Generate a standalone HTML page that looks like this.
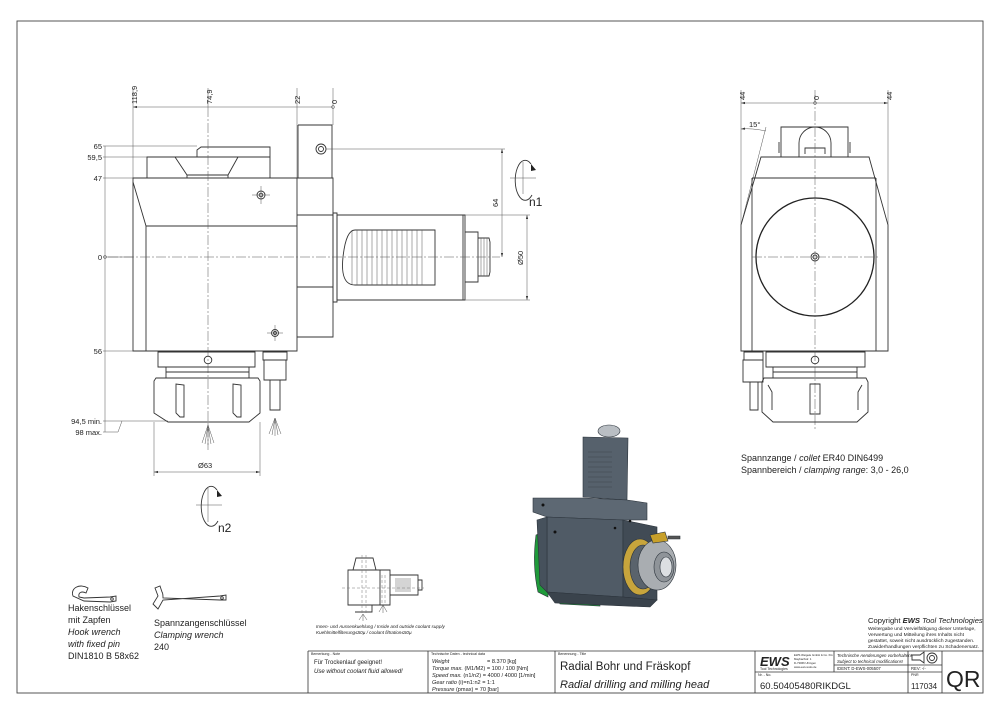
<!DOCTYPE html>
<html><head><meta charset="utf-8"><style>
html,body{margin:0;padding:0;background:#fff;}
svg{display:block;font-family:"Liberation Sans",sans-serif;}
.l{fill:none;stroke:#333;stroke-width:0.9}
.t{fill:none;stroke:#555;stroke-width:0.5}
.c{fill:none;stroke:#555;stroke-width:0.5;stroke-dasharray:10 2 2 2}
.d{fill:none;stroke:#777;stroke-width:0.5;stroke-dasharray:3 2}
text{fill:#222}
.s{font-size:7.5px}
.m{font-size:9px}
.i{font-style:italic}
</style></head><body>
<svg width="1000" height="715" viewBox="0 0 1000 715" xmlns="http://www.w3.org/2000/svg">
<defs><marker id="a" markerWidth="8" markerHeight="6" refX="8" refY="3" orient="auto-start-reverse"><path d="M0,0.8 L8,3 L0,5.2z" fill="#333"/></marker></defs>
<rect x="17" y="21" width="966" height="672" fill="none" stroke="#444" stroke-width="0.9"/>

<!-- ===== LEFT VIEW ===== -->
<line class="t" x1="133" y1="107" x2="333" y2="107" marker-start="url(#a)"/>
<line class="t" x1="133" y1="88" x2="133" y2="178"/>
<line class="t" x1="208" y1="88" x2="208" y2="107"/>
<line class="t" x1="297" y1="88" x2="297" y2="178"/>
<line class="t" x1="333" y1="88" x2="333" y2="125"/>
<circle cx="333" cy="107" r="1.5" class="t"/>
<g class="s">
<text transform="translate(137,104) rotate(-90)">118,9</text>
<text transform="translate(212,104) rotate(-90)">74,9</text>
<text transform="translate(300,104) rotate(-90)">22</text>
<text transform="translate(337,104) rotate(-90)">0</text>
</g>
<line class="t" x1="105" y1="146" x2="105" y2="432"/>
<line class="t" x1="103" y1="146" x2="197" y2="146"/>
<line class="t" x1="103" y1="157" x2="147" y2="157"/>
<line class="t" x1="103" y1="178" x2="133" y2="178"/>
<line class="t" x1="103" y1="257" x2="133" y2="257"/>
<line class="t" x1="103" y1="351" x2="133" y2="351"/>
<line class="t" x1="103" y1="421" x2="168" y2="421"/>
<line class="t" x1="103" y1="432" x2="118" y2="432"/><line class="t" x1="118" y1="432" x2="122" y2="421"/>
<circle cx="105" cy="257" r="1.5" class="t"/>
<g class="s" text-anchor="end">
<text x="102" y="149">65</text><text x="102" y="160">59,5</text><text x="102" y="181">47</text>
<text x="102" y="260">0</text><text x="102" y="354">56</text>
<text x="102" y="424">94,5 min.</text><text x="102" y="435">98 max.</text>
</g>
<path class="l" d="M133,178 H297 V351 H133 Z"/>
<path class="l" d="M133,182 L146,226 V351 M146,226 H297"/>
<path class="l" d="M147,178 V157 H270 V178 M197,157 V150 L201,147 H270 V157"/>
<path class="l" d="M175,157 L187,175 H228 L238,157 M187,175 V178 M228,175 V178"/>
<path class="l" d="M298,125 H332 V178 M298,125 V178"/>
<circle cx="321" cy="149" r="5" class="l"/><circle cx="321" cy="149" r="2.5" class="l"/>
<path class="l" d="M297,178 H333 V337 H297"/>
<path class="l" d="M297,215 H333 M297,287 H333"/>
<circle cx="261" cy="195" r="4" class="l"/><circle cx="261" cy="195" r="1.8" class="l"/>
<line class="t" x1="252" y1="195" x2="270" y2="195"/><line class="t" x1="261" y1="186" x2="261" y2="204"/>
<circle cx="275" cy="333" r="3.5" class="l"/><circle cx="275" cy="333" r="1.5" class="l"/>
<line class="t" x1="267" y1="333" x2="283" y2="333"/><line class="t" x1="275" y1="325" x2="275" y2="341"/>
<path class="l" d="M333,213 H337 V302 H333 Z"/>
<path class="l" d="M337,215 H463 V300 H337 Z"/>
<path class="l" d="M460,215 H465 V300 H460"/>
<path class="l" d="M465,232 H478 V282 H465"/>
<path class="l" d="M478,238 H489 L490,242 V272 L489,276 H478"/>
<g class="t"><line x1="481" y1="238" x2="481" y2="276"/><line x1="484" y1="238" x2="484" y2="276"/><line x1="487" y1="238" x2="487" y2="276"/></g>
<path class="l" d="M355,230 H435 V285 H355 Q340,285 343,257 Q346,230 355,230 Z"/>
<g class="t">
<path d="M352,230 V285 M357,230 V285 M362,230 V285 M367,230 V285 M372,230 V285 M377,230 V285 M382,230 V285 M387,230 V285 M392,230 V285 M397,230 V285 M402,230 V285 M407,230 V285 M412,230 V285 M417,230 V285 M422,230 V285"/>
</g>
<line class="c" x1="108" y1="257" x2="500" y2="257"/>
<line class="c" x1="208" y1="107" x2="208" y2="450"/>
<line class="t" x1="326" y1="149" x2="505" y2="149"/>
<line class="t" x1="502" y1="149" x2="502" y2="257" marker-start="url(#a)" marker-end="url(#a)"/>
<text class="s" transform="translate(498,207) rotate(-90)">64</text>
<line class="t" x1="465" y1="215" x2="530" y2="215"/>
<line class="t" x1="465" y1="300" x2="530" y2="300"/>
<line class="t" x1="527" y1="215" x2="527" y2="300" marker-start="url(#a)" marker-end="url(#a)"/>
<text class="s" transform="translate(523,265) rotate(-90)">Ø50</text>
<path class="l" d="M531,164 A10,20 0 1,0 532,195"/>
<path d="M531,164 l5,6 l-5,1z" fill="#222"/>
<line class="t" x1="510" y1="178" x2="536" y2="178"/><line class="t" x1="523" y1="162" x2="523" y2="194"/>
<text x="529" y="206" font-size="12">n1</text>
<path class="l" d="M158,352 H255 V367 H158 Z"/>
<circle cx="208" cy="360" r="3.8" class="l"/>
<path class="l" d="M166,367 V378 M249,367 V378 M166,372 H249"/>
<path class="l" d="M156,378 H258 L260,381 V413 L249,422 H168 L154,413 V381 Z"/>
<path class="l" d="M176,384 V413 L180,417 H184 V385 Z M233,384 V413 L237,417 H241 V385 Z"/>
<path class="l" d="M263,352 H287 V360 H263 Z M264,360 H286 V380 H264 Z M270,380 H280 V410 H270 Z"/>
<g class="t"><path d="M208,425 l-6,18 M208,425 l-3,19 M208,425 l0,20 M208,425 l3,19 M208,425 l6,18"/>
<path d="M275,418 l-6,16 M275,418 l-3,17 M275,418 l0,18 M275,418 l3,17 M275,418 l6,16"/></g>
<line class="t" x1="154" y1="422" x2="154" y2="476"/><line class="t" x1="260" y1="422" x2="260" y2="476"/>
<line class="t" x1="154" y1="472" x2="260" y2="472" marker-start="url(#a)" marker-end="url(#a)"/>
<text class="s" x="198" y="468">Ø63</text>
<path class="l" d="M217,490 A10,20 0 1,0 218,521"/>
<path d="M217,490 l5,6 l-5,1z" fill="#222"/>
<line class="t" x1="196" y1="505" x2="222" y2="505"/><line class="t" x1="208" y1="488" x2="208" y2="522"/>
<text x="218" y="532" font-size="12">n2</text>

<!-- ===== RIGHT VIEW ===== -->
<line class="t" x1="741" y1="103" x2="888" y2="103" marker-start="url(#a)" marker-end="url(#a)"/>
<line class="t" x1="741" y1="90" x2="741" y2="225"/><line class="t" x1="888" y1="90" x2="888" y2="225"/>
<line class="t" x1="815" y1="90" x2="815" y2="103"/><circle cx="815" cy="103" r="1.5" class="t"/>
<g class="s"><text transform="translate(745,100) rotate(-90)">44</text><text transform="translate(819,100) rotate(-90)">0</text><text transform="translate(892,100) rotate(-90)">44</text></g>
<path class="t" d="M741,129 Q752,128 766,131" marker-start="url(#a)"/><line class="t" x1="766" y1="127" x2="741" y2="225"/>
<text class="s" x="749" y="127">15°</text>
<path class="l" d="M761,157 H869 L888,225 V351 H741 V225 Z"/>
<path class="l" d="M752,178 H876 M752,178 V351 M876,178 V351"/>
<path class="l" d="M781,157 V127 H848 V157 M779,142 V153 M850,142 V153"/>
<path class="l" d="M799,157 V143 A16,16 0 0,1 831,143 V157 M805,154 V148 H825 V154"/>
<circle cx="815" cy="257" r="59" fill="none" stroke="#222" stroke-width="1.3"/>
<circle cx="815" cy="257" r="4" class="l"/><circle cx="815" cy="257" r="2" class="l"/>
<line class="c" x1="752" y1="257" x2="880" y2="257"/><line class="c" x1="815" y1="95" x2="815" y2="430"/>
<path class="l" d="M766,352 H865 V367 H766 Z"/><circle cx="815" cy="360" r="3.8" class="l"/>
<path class="l" d="M773,367 V378 M857,367 V378 M773,372 H857"/>
<path class="l" d="M764,378 H866 L868,382 V412 L857,422 H773 L762,412 V382 Z"/>
<path class="l" d="M768,385 L772,392 V410 M862,385 L858,392 V410 M810,384 V414 H820 V384 Z"/>
<path class="l" d="M744,352 H763 V360 H744 Z M743,360 H763 V382 H743 Z M750,382 H758 V410 H750 Z"/>
<text class="m" x="741" y="461">Spannzange / <tspan class="i">collet</tspan>   ER40   DIN6499</text>
<text class="m" x="741" y="473">Spannbereich / <tspan class="i">clamping range</tspan>: 3,0 - 26,0</text>

<!-- ===== 3D ===== -->
<g stroke="#2b333b" stroke-width="0.6">
<path d="M536,535 Q532,565 538,592 L548,597 L550,530 Z" fill="#1f9a3a"/>
<path d="M557,597 L600,600 L600,606 L560,604 Z" fill="#1f9a3a"/>
<path d="M583,437 L583,497 L627,500 L628,438 Z" fill="#56616c"/>
<ellipse cx="609" cy="431" rx="11" ry="6" fill="#b9bec3"/>
<path d="M533,498 H583 L627,500 L647,503 L647,520 L623,520 L547,517 L533,512 Z" fill="#5d6873"/>
<path d="M547,517 L623,520 L623,597 L547,592 Z" fill="#505b66"/>
<path d="M537,520 L547,517 L547,592 L540,585 Z" fill="#46515c"/>
<path d="M623,520 L657,527 L657,600 L623,597 Z" fill="#414b55"/>
<path d="M547,592 L623,597 L657,600 L650,607 L555,603 Z" fill="#3a434c"/>
<ellipse cx="640" cy="567" rx="17" ry="28" fill="#c8a53c"/>
<ellipse cx="643" cy="567" rx="13" ry="22" fill="#5a636c"/>
<ellipse cx="657" cy="565" rx="19" ry="25" fill="#a9adb1"/>
<ellipse cx="664" cy="567" rx="10" ry="15" fill="#8f9499"/>
<ellipse cx="666" cy="567" rx="6" ry="10" fill="#dcdfe2"/>
<path d="M650,535 L665,532 L668,541 L653,543 Z" fill="#c8a02a"/>
<path d="M668,536 H680 V539 H668 Z" fill="#555"/>
</g>
<g stroke="#3e474f" stroke-width="0.6"><path d="M588,452 H612 M588,457 H612 M588,462 H612 M588,467 H612 M588,472 H612 M588,477 H612 M588,482 H612 M588,487 H612"/></g>
<g fill="#111"><circle cx="543" cy="505" r="1.5"/><circle cx="555" cy="532" r="1.5"/><circle cx="615" cy="528" r="1.3"/><circle cx="630" cy="521" r="1.3"/></g>

<!-- ===== WRENCHES ===== -->
<path class="l" d="M73,596 C70,588 80,583 88,588 L86,593 C82,591 78,592 79,597 L84,598 L110,597 L116,596 L116,601 L110,602 L84,601 Z"/>
<circle cx="112" cy="599" r="1.3" class="l"/>
<g class="m"><text x="68" y="611">Hakenschlüssel</text><text x="68" y="623">mit Zapfen</text><text class="i" x="68" y="635">Hook wrench</text><text class="i" x="68" y="647">with fixed pin</text><text x="68" y="659">DIN1810  B 58x62</text></g>
<path class="l" d="M155,588 L158,596 L153,604 L158,609 L163,600 L220,596 L226,595 L226,600 L220,600 L163,598 Q163,593 162,592 L160,586 Z"/>
<circle cx="222" cy="598" r="1.3" class="l"/>
<g class="m"><text x="154" y="626">Spannzangenschlüssel</text><text class="i" x="154" y="638">Clamping wrench</text><text x="154" y="650">240</text></g>

<path class="l" d="M348,570 H380 V605 H348 Z M353,570 L356,558 H373 L376,570 M378,570 H390 V605 H378 M390,575 H418 V595 H390 M418,580 H422 V590 H418 M355,605 H372 V612 H355"/>
<g class="t"><path d="M396,578 V592 M398,578 V592 M400,578 V592 M402,578 V592 M404,578 V592 M406,578 V592 M408,578 V592 M410,578 V592"/></g>
<line class="d" x1="342" y1="588" x2="424" y2="588"/>
<line class="d" x1="362" y1="555" x2="362" y2="615"/><line class="d" x1="366" y1="555" x2="366" y2="615"/>
<line class="d" x1="382" y1="575" x2="382" y2="605"/><line class="d" x1="385" y1="575" x2="385" y2="605"/>
<g class="t"><path d="M363,614 l-4,6 M363,614 l0,7 M363,614 l4,6 M383,605 l-4,7 M383,605 l0,8 M383,605 l4,7"/></g>
<text x="316" y="628" font-size="4.6" class="i">Innen- und Aussenkuehlung / Inside and outside coolant supply</text>
<text x="316" y="634" font-size="4.6" class="i">Kuehlmittelfilterung≤50µ / coolant filtration≤50µ</text>

<text x="868" y="623" font-size="7.6">Copyright <tspan font-weight="bold" font-style="italic">EWS</tspan> <tspan font-style="italic">Tool Technologies</tspan></text>
<g font-size="4.9"><text x="868" y="630">Weitergabe und Vervielfältigung dieser Unterlage,</text><text x="868" y="636">Verwertung und Mitteilung ihres Inhalts nicht</text><text x="868" y="642">gestattet, soweit nicht ausdrücklich zugestanden.</text><text x="868" y="648">Zuwiderhandlungen verpflichten zu Schadenersatz.</text></g>

<!-- ===== TITLE BLOCK ===== -->
<g fill="none" stroke="#333" stroke-width="0.8">
<path d="M308,651 H983 M308,651 V693 M428,651 V693 M555,651 V693 M755,651 V693 M942,651 V693"/>
<path d="M755,672 H942 M834,665 H942 M834,651 V672 M908,651 V693"/>
</g>
<g font-size="3.6" fill="#444"><text x="311" y="655">Bemerkung - Note</text><text x="431" y="655">Technische Daten - technical data</text><text x="558" y="655">Benennung - Title</text><text x="758" y="676">Nr. - No.</text><text x="911" y="676">PNR</text></g>
<g font-size="6" class="i"><text x="314" y="664" font-style="normal">Für Trockenlauf geeignet!</text><text x="314" y="673">Use without coolant fluid allowed!</text></g>
<g font-size="5.6">
<text x="432" y="663" class="i">Weight</text><text x="487" y="663">=  8.370 [kg]</text>
<text x="432" y="670"><tspan class="i">Torque max.</tspan> (M1/M2)  =  100 / 100 [Nm]</text>
<text x="432" y="677"><tspan class="i">Speed max.</tspan> (n1/n2)  =  4000 / 4000 [1/min]</text>
<text x="432" y="684"><tspan class="i">Gear ratio</tspan>  (i)=n1:n2 = 1:1</text>
<text x="432" y="691"><tspan class="i">Pressure</tspan>   (pmax)  =  70 [bar]</text>
</g>
<text x="560" y="670" font-size="11.5">Radial Bohr und Fräskopf</text>
<text x="560" y="688" font-size="11" class="i">Radial drilling and milling head</text>
<text x="760" y="666" font-size="13" font-weight="bold" font-style="italic">EWS</text>
<text x="760" y="670" font-size="3.5">Tool Technologies</text>
<g font-size="2.8"><text x="794" y="656">EWS Weigele GmbH &amp; Co. KG</text><text x="794" y="660">Maybachstr. 1</text><text x="794" y="664">D-73066 Uhingen</text><text x="794" y="668">www.ews-tools.de</text></g>
<g font-size="4.4" class="i"><text x="837" y="657">Technische Aenderungen vorbehalten!</text><text x="837" y="663">Subject to technical modifications!</text></g>
<text x="837" y="670" font-size="4.2">IDENT:  D-EWS-005507</text>
<text x="911" y="670" font-size="4.2">REV:  -/-</text>
<path class="l" d="M912,655 L920,655 L924,652 V663 L920,660 H912 Z"/>
<circle cx="932" cy="658" r="5" class="l"/><circle cx="932" cy="658" r="2.5" class="l"/>
<text x="760" y="689" font-size="9.5">60.50405480RIKDGL</text>
<text x="911" y="689" font-size="8">117034</text>
<text x="946" y="687" font-size="23">QR</text>
</svg>
</body></html>
